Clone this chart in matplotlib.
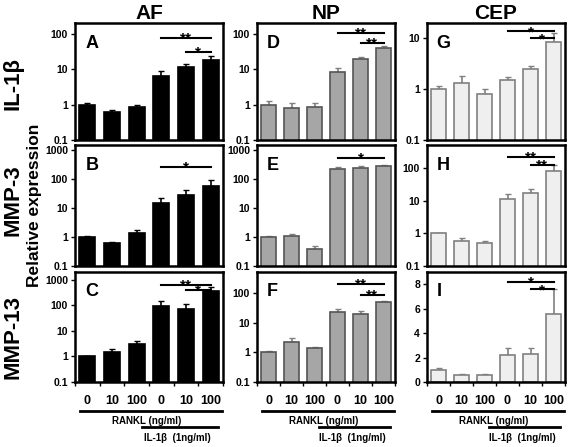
import matplotlib.pyplot as plt
from matplotlib.ticker import FixedLocator, NullLocator

plt.rcParams['font.family'] = ['Liberation Sans', 'DejaVu Sans']

tissues = ['AF', 'NP', 'CEP']
genes = ['IL-1β', 'MMP-3', 'MMP-13']
doses = ['0', '10', '100', '0', '10', '100']

# bar heights, rows = IL-1b, MMP-3, MMP-13
af_mean = [[1.0, 0.6, 0.85, 6.5, 11.5, 18],
           [1.0, 0.6, 1.4, 15, 28, 60],
           [1.0, 1.5, 3.0, 95, 70, 350]]
np_mean = [[1.0, 0.82, 0.85, 8.5, 19, 40],
           [1.0, 1.05, 0.38, 220, 250, 280],
           [1.0, 2.2, 1.35, 22, 20, 48]]
cep_mean = [[1.0, 1.3, 0.82, 1.5, 2.5, 8.3],
            [1.0, 0.6, 0.5, 11, 17, 80],
            [1.0, 0.55, 0.55, 2.2, 2.3, 5.6]]
# top of the error bars
af_top = [[1.1, 0.7, 0.95, 9, 13.5, 23],
          [1.1, 0.68, 1.7, 23, 42, 95],
          [1.05, 2.0, 4.0, 150, 115, 500]]
np_top = [[1.25, 1.1, 1.1, 10.5, 22, 45],
          [1.1, 1.25, 0.48, 260, 280, 300],
          [1.1, 3.1, 1.45, 29, 24, 54]]
cep_top = [[1.15, 1.85, 1.0, 1.7, 2.9, 12.5],
           [1.05, 0.72, 0.58, 16, 22, 120],
           [1.12, 0.65, 0.65, 2.75, 2.8, 7.6]]

# significance brackets: (from bar, to bar, height, stars)
af_sig = [[(3, 5, 77, '**'), (4, 5, 31, '*')],
          [(3, 5, 260, '*')],
          [(3, 5, 640, '**'), (4, 5, 400, '*')]]
np_sig = [[(3, 5, 105, '**'), (4, 5, 56, '**')],
          [(3, 5, 530, '*')],
          [(3, 5, 200, '**'), (4, 5, 85, '**')]]
cep_sig = [[(3, 5, 13.7, '*'), (4, 5, 10, '*')],
           [(3, 5, 215, '**'), (4, 5, 123, '**')],
           [(3, 5, 8.2, '*'), (4, 5, 7.6, '*')]]

letters = [['A', 'B', 'C'], ['D', 'E', 'F'], ['G', 'H', 'I']]
ylims = [[(0.1, 200), (0.1, 1500), (0.1, 2000)],
         [(0.1, 200), (0.1, 1500), (0.1, 500)],
         [(0.1, 20), (0.1, 500), (0, 9)]]
yticks = [[[0.1, 1, 10, 100], [0.1, 1, 10, 100, 1000], [0.1, 1, 10, 100, 1000]],
          [[0.1, 1, 10, 100], [0.1, 1, 10, 100, 1000], [0.1, 1, 10, 100]],
          [[0.1, 1, 10], [0.1, 1, 10, 100], [0, 2, 4, 6, 8]]]

face = ['black', '#a6a6a6', '#efefef']
edge = ['black', '#555555', '#808080']
ecol = ['black', '#808080', '#808080']

W, H = 568, 447
col_l = [75, 257, 427]
col_r = [223, 395, 565]
row_t = [23, 145, 272]
row_b = [140, 266, 382]
gene_y = [83, 200, 337]

fig = plt.figure(figsize=(W / 100, H / 100), dpi=100)

means = [af_mean, np_mean, cep_mean]
tops = [af_top, np_top, cep_top]
sigs = [af_sig, np_sig, cep_sig]
x = list(range(6))

for c in range(3):
    for r in range(3):
        ax = fig.add_axes([col_l[c] / W, 1 - row_b[r] / H,
                           (col_r[c] - col_l[c]) / W, (row_b[r] - row_t[r]) / H])
        m = means[c][r]
        t = tops[c][r]
        log = not (c == 2 and r == 2)
        if log:
            ax.set_yscale('log')
        ax.bar(x, m, width=0.65, color=face[c], edgecolor=edge[c], linewidth=1.2, zorder=2)
        ax.errorbar(x, m, yerr=[[0] * 6, [tt - mm for tt, mm in zip(t, m)]],
                    fmt='none', ecolor=ecol[c], elinewidth=1.2, capsize=2.5, zorder=1)
        ax.set_xlim(-0.5, 5.5)
        ax.set_ylim(*ylims[c][r])
        ax.yaxis.set_major_locator(FixedLocator(yticks[c][r]))
        ax.yaxis.set_minor_locator(NullLocator())
        ax.set_yticklabels([('%g' % v) for v in yticks[c][r]], fontsize=7.5, fontweight='bold')
        ax.tick_params(axis='y', length=3, width=1, pad=2)
        for s in ax.spines.values():
            s.set_linewidth(1.8)
        ax.text(0.07, 0.9, letters[c][r], transform=ax.transAxes, fontsize=13,
                fontweight='bold', va='top', ha='left')
        for (a, b, y, st) in sigs[c][r]:
            ax.plot([a, b], [y, y], color='black', lw=1.5, zorder=3)
            ax.annotate(st, ((a + b) / 2, y), xytext=(0, -3.5), textcoords='offset points',
                        ha='center', va='baseline', fontsize=11, fontweight='bold')
        if r < 2:
            ax.set_xticks([])
        else:
            ax.set_xticks(x)
            ax.set_xticklabels(doses, fontsize=9, fontweight='bold')
            ax.set_xticks([i - 0.5 for i in range(7)], minor=True)
            ax.tick_params(axis='x', which='major', length=0, pad=9)
            ax.tick_params(axis='x', which='minor', length=3, width=1)
            tr = ax.get_xaxis_transform()
            ax.plot([-0.3, 5.45], [-0.265, -0.265], transform=tr, color='black',
                    lw=2, clip_on=False)
            ax.text(2.4, -0.31, 'RANKL (ng/ml)', transform=tr, ha='center', va='top',
                    fontsize=7, fontweight='bold')
            ax.plot([2.2, 5.3], [-0.41, -0.41], transform=tr, color='black',
                    lw=2, clip_on=False)
            ax.text(3.65, -0.46, 'IL-1β  (1ng/ml)', transform=tr, ha='center', va='top',
                    fontsize=7, fontweight='bold')
        if r == 0:
            ax.set_title(tissues[c], fontsize=15, fontweight='bold', pad=2)

for r in range(3):
    fig.text(13 / W, 1 - gene_y[r] / H, genes[r], rotation=90, ha='center', va='center',
             fontsize=16, fontweight='bold')
fig.text(35 / W, 1 - 205 / H, 'Relative expression', rotation=90, ha='center',
         va='center', fontsize=12.5, fontweight='bold')

fig.savefig('out.png', dpi=100)
